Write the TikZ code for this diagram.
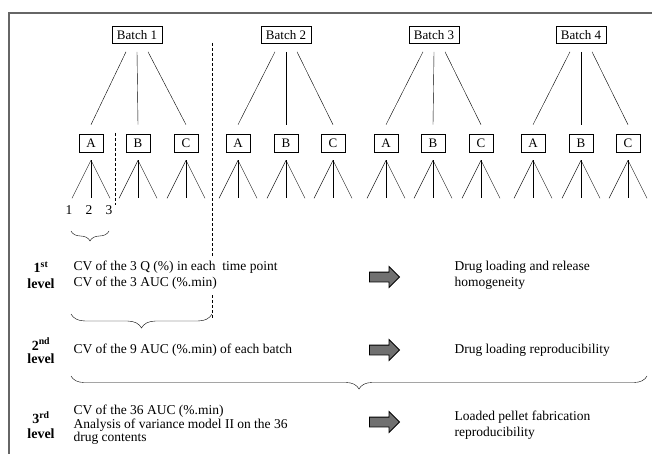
\documentclass[tikz,border=0pt]{standalone}
\usepackage{fontspec}
\setmainfont{Liberation Serif}
\usetikzlibrary{shapes.arrows,decorations.pathreplacing}

\definecolor{framegray}{HTML}{666666}
\definecolor{arrowgray}{HTML}{707070}

\begin{document}
\begin{tikzpicture}[x=1pt,y=-1pt,
    font=\fontsize{13.5}{16}\selectfont,
    batchbox/.style={draw,semithick,minimum width=50pt,minimum height=17pt,inner sep=2pt,
        font=\fontsize{13}{16}\selectfont},
    subbox/.style={draw,semithick,minimum width=24pt,minimum height=18pt,inner sep=2pt,
        font=\fontsize{13}{16}\selectfont},
    bigarrow/.style={single arrow,draw,thick,fill=arrowgray,minimum height=30pt,
        inner sep=4.5pt,single arrow head extend=5.5pt},
    curly/.style={decorate,decoration={brace,amplitude=#1}}]
    \useasboundingbox (0,0) rectangle (652,454);
    \draw[framegray,line width=1.2pt] (9,454) -- (9,13) -- (652,13);

    % batches and their pellets
    \node[batchbox] (b1) at (137,35) {Batch 1};
    \node[batchbox] (b2) at (286,35) {Batch 2};
    \node[batchbox] (b3) at (434,35) {Batch 3};
    \node[batchbox] (b4) at (581,35) {Batch 4};
    \begin{scope}[every node/.style={subbox}]
        \node (b1-A) at (91,143) {A};
        \node (b1-B) at (138,143) {B};
        \node (b1-C) at (186,143) {C};
        \node (b2-A) at (238,143) {A};
        \node (b2-B) at (286,143) {B};
        \node (b2-C) at (333,143) {C};
        \node (b3-A) at (386,143) {A};
        \node (b3-B) at (433,143) {B};
        \node (b3-C) at (481,143) {C};
        \node (b4-A) at (533,143) {A};
        \node (b4-B) at (581,143) {B};
        \node (b4-C) at (628,143) {C};
    \end{scope}
    \begin{scope}[every edge/.style={draw=black,thin}]
        \foreach \b in {1,...,4} {
            \path ([xshift=-11pt,yshift=-8pt]b\b.south) edge ([yshift=9pt]b\b-A.north);
            \path ([yshift=-8pt]b\b.south) edge ([yshift=9pt]b\b-B.north);
            \path ([xshift=11pt,yshift=-8pt]b\b.south) edge ([yshift=9pt]b\b-C.north);
            \foreach \c in {A,B,C} {
                \coordinate (b\b-\c-top) at ([yshift=-8pt]b\b-\c.south);
                \coordinate (b\b-\c-1) at ([xshift=-19pt,yshift=-46pt]b\b-\c.south);
                \coordinate (b\b-\c-2) at ([yshift=-46pt]b\b-\c.south);
                \coordinate (b\b-\c-3) at ([xshift=19pt,yshift=-46pt]b\b-\c.south);
                \path (b\b-\c-top) edge (b\b-\c-1) edge (b\b-\c-2) edge (b\b-\c-3);
            }
        }
    \end{scope}
    \node (n1) at ([xshift=-3pt,yshift=-12pt]b1-A-1) {1};
    \node (n2) at ([xshift=-2pt,yshift=-12pt]b1-A-2) {2};
    \node (n3) at ([xshift=-1pt,yshift=-12pt]b1-A-3) {3};

    % groupings
    \draw[dash pattern=on 3pt off 2pt] (115,133) -- (115,205);
    \draw[dash pattern=on 3pt off 2pt] (212,43) -- (212,257);
    \draw[dash pattern=on 3pt off 2pt] (212,295) -- (212,318);
    \draw[curly=10pt] (109,231) -- (71,231);
    \draw[curly=14pt] (212,314) -- (71,314);
    \draw[curly=13pt] (647,376) -- (71,376);

    % levels
    \begin{scope}[every node/.style={align=center,font=\fontsize{14}{16}\selectfont\bfseries}]
        \node (l1) at (41,275) {1\textsuperscript{st}\\level};
        \node[font=\fontsize{14}{13.5}\selectfont\bfseries] (l2) at (41,351) {2\textsuperscript{nd}\\level};
        \node[font=\fontsize{14}{15}\selectfont\bfseries] (l3) at (41,425) {3\textsuperscript{rd}\\level};
    \end{scope}
    \node[anchor=west,align=left] (t1) at (70,275) {CV of the 3 Q (\%) in each \ time point\\CV of the 3 AUC (\%.min)};
    \node[anchor=west,align=left] (t2) at (70,350) {CV of the 9 AUC (\%.min) of each batch};
    \node[anchor=west,align=left,font=\fontsize{13.5}{13.5}\selectfont] (t3) at (70,425)
        {CV of the 36 AUC (\%.min)\\Analysis of variance model II on the 36\\drug contents};

    \node[bigarrow] (a1) at (382,277) {};
    \node[bigarrow] (a2) at (382,350) {};
    \node[bigarrow] (a3) at (382,422) {};

    \node[anchor=west,align=left] (r1) at (451,275) {Drug loading and release\\homogeneity};
    \node[anchor=west,align=left] (r2) at (451,350) {Drug loading reproducibility};
    \node[anchor=west,align=left] (r3) at (451,425) {Loaded pellet fabrication\\reproducibility};
\end{tikzpicture}
\end{document}
